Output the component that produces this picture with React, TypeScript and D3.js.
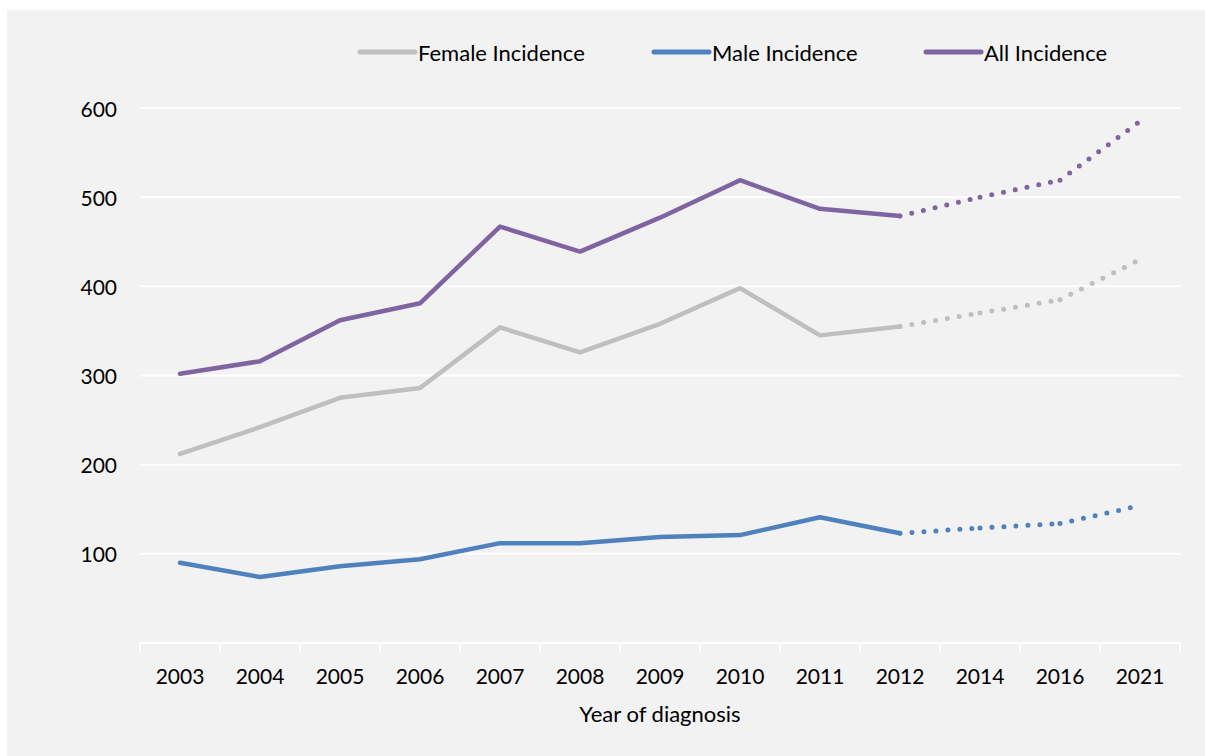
import React from "react";
import * as d3 from "d3";

const years = ["2003", "2004", "2005", "2006", "2007", "2008", "2009", "2010", "2011", "2012", "2014", "2016", "2021"];
const femaleIncidence = [212, 242, 275, 286, 354, 326, 358, 398, 345, 355, 370, 385, 430];
const maleIncidence = [90, 74, 86, 94, 112, 112, 119, 121, 141, 123, 129, 134, 154];
const allIncidence = [302, 316, 362, 381, 467, 439, 477, 519, 487, 479, 500, 519, 585];
const yTicks = [100, 200, 300, 400, 500, 600];
const observedCount = 10; // 2003–2012 observed, later projected

const W = 1205;
const H = 756;
const FONT = "Lato, 'Open Sans', sans-serif";

const series = [
  { name: "Female Incidence", values: femaleIncidence, color: "#bfbfbf", lx: 360 },
  { name: "Male Incidence", values: maleIncidence, color: "#4f81bd", lx: 654 },
  { name: "All Incidence", values: allIncidence, color: "#8064a2", lx: 926 },
];

export default function App() {
  const x = d3.scaleBand<string>().domain(years).range([140, 1180]).padding(0);
  const y = d3.scaleLinear().domain([0, 600]).range([643, 108]);
  const cx = (i: number) => (x(years[i]) as number) + x.bandwidth() / 2;
  const line = d3
    .line<number>()
    .x((_, i) => cx(i))
    .y((d) => y(d));

  const segLine = (vals: number[], i0: number, i1: number) =>
    d3
      .line<[number, number]>()
      .x((d) => d[0])
      .y((d) => d[1])([
      [cx(i0), y(vals[i0])],
      [cx(i1), y(vals[i1])],
    ]);

  const boundaries = years.map((yr) => x(yr) as number).concat([1180]);

  return (
    <svg
      width={W}
      height={H}
      style={{ position: "absolute", left: 0, top: 0, background: "#ffffff" }}
      fontFamily={FONT}
    >
      <rect x={7} y={10} width={W - 7} height={H - 10} fill="#f2f2f2" />
      {yTicks.map((t) => (
        <g key={t}>
          <line x1={140} x2={1181} y1={y(t)} y2={y(t)} stroke="#ffffff" strokeWidth={2} />
          <text x={117} y={y(t)} textAnchor="end" dominantBaseline="central" fontSize={21} fill="#000">
            {t}
          </text>
        </g>
      ))}
      <line x1={139} x2={1181} y1={y(0)} y2={y(0)} stroke="#ffffff" strokeWidth={2} />
      {boundaries.map((b, i) => (
        <line key={i} x1={b} x2={b} y1={y(0)} y2={y(0) + 8} stroke="#ffffff" strokeWidth={2} />
      ))}
      {years.map((yr, i) => (
        <text key={yr} x={cx(i)} y={675} textAnchor="middle" dominantBaseline="central" fontSize={21} fill="#000">
          {yr}
        </text>
      ))}
      <text x={660} y={713} textAnchor="middle" dominantBaseline="central" fontSize={22} fill="#000">
        Year of diagnosis
      </text>

      {series.map((s) => (
        <g key={s.name}>
          <path
            d={line(s.values.slice(0, observedCount)) as string}
            fill="none"
            stroke={s.color}
            strokeWidth={4.5}
            strokeLinejoin="round"
            strokeLinecap="round"
          />
          {[9, 10, 11].map((i0) => (
            <path
              key={i0}
              d={segLine(s.values, i0, i0 + 1) as string}
              fill="none"
              stroke={s.color}
              strokeWidth={5}
              strokeLinecap="round"
              strokeDasharray="0 12"
            />
          ))}
          <line x1={s.lx} x2={s.lx + 55} y1={52} y2={52} stroke={s.color} strokeWidth={5} strokeLinecap="round" />
          <text x={s.lx + 58} y={52} dominantBaseline="central" fontSize={22} fill="#000">
            {s.name}
          </text>
        </g>
      ))}
    </svg>
  );
}
